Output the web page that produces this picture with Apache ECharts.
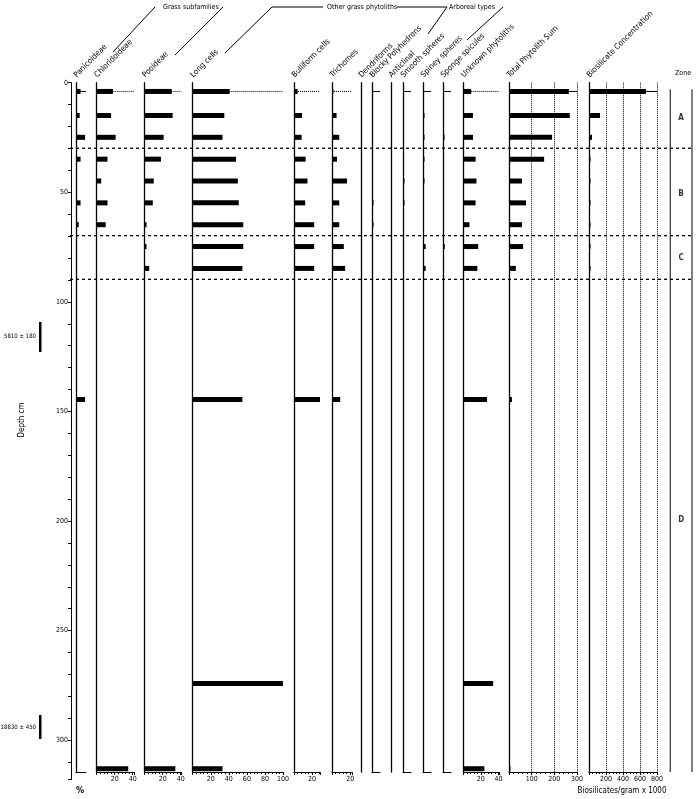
<!DOCTYPE html>
<html><head><meta charset="utf-8">
<script src="https://cdn.jsdelivr.net/npm/echarts@6/dist/echarts.min.js"></script>
<style>html,body{margin:0;padding:0;background:#fff}#c{width:700px;height:799px}</style>
</head><body><div id="c"></div>
<script>
var depths = [4,15,25,35,45,55,65,75,85,145,275,314];
var panicoideae   = [5,4,10,5,0,5,3,0,0,10,0,0];
var chloridoideae = [18,16,21,12,5,12,10,0,0,0,0,35];
var pooideae      = [30,31,21,18,10,9,2,2,5,0,0,34];
var longCells     = [41,35,33,48,50,51,56,56,55,55,100,33];
var bulliform     = [4,9,8.5,13,15,12.5,22.5,22.5,22.5,29,0,0];
var trichomes     = [1,5,8,5.5,16.5,8,8,13,14.5,9,0,0];
var dendriforms   = [0,0,0,0,0,0,0,0,0,0,0,0];
var blocky        = [0,0,0,0,0,1,1,0,0,0,0,0];
var anticlinal    = [0,0,0,0,0,0,0,0,0,0,0,0];
var smooth        = [0,0,0,0,1,1,0,0,0,0,0,0];
var spiney        = [0,0.6,0.6,0.6,1,0,0,3,3,0,0,0];
var sponge        = [0,0,0.6,0,0,0,0,2,0,0,0,0];
var unknown       = [9,11,11,14,15,14,7,17,16,27,34,24];
var totalSum      = [264,268,190,155,57,75,57,62,30,13,0,3];
var biosilicate   = [670,130,35,5,5,5,5,5,5,0,0,0];
var zoneBounds = [30,70,90];
var zoneLabels = [['A',16],['B',51],['C',80],['D',200]];

var TOP=82.7, H=689.3, DMAX=315.5;
var panels = [
 {name:'Panicoideae', v:panicoideae, left:76, w:10, max:11, ticks:[], top:'solid'},
 {name:'Chloridoideae', v:chloridoideae, left:96.7, w:37.3, max:41.4, ticks:[20,40], step:20, top:'dotted'},
 {name:'Pooideae', v:pooideae, left:144.7, w:36.5, max:40.5, ticks:[20,40], step:20, top:'dotted'},
 {name:'Long cells', v:longCells, left:192.7, w:90.3, max:100, ticks:[20,40,60,80,100], step:20, top:'dotted'},
 {name:'Bulliform cells', v:bulliform, left:294, w:26, max:29, ticks:[20], step:20, top:'dotted'},
 {name:'Trichomes', v:trichomes, left:332, w:20, max:22, ticks:[20], step:20, top:'dotted'},
 {name:'Dendriforms', v:dendriforms, left:361, w:0.5, max:1, ticks:[], top:'none'},
 {name:'Blocky Polyhedrons', v:blocky, left:372, w:8, max:9, ticks:[], top:'solid'},
 {name:'Anticlinal', v:anticlinal, left:391, w:0.5, max:1, ticks:[], top:'none'},
 {name:'Smooth spheres', v:smooth, left:403, w:8, max:9, ticks:[], top:'solid'},
 {name:'Spiney spheres', v:spiney, left:423, w:8, max:9, ticks:[], top:'solid'},
 {name:'Sponge spicules', v:sponge, left:443, w:8, max:9, ticks:[], top:'solid'},
 {name:'Unknown phytoliths', v:unknown, left:463.3, w:36, max:41, ticks:[20,40], step:20, top:'dotted'},
 {name:'Total Phytolith Sum', v:totalSum, left:509, w:68, max:300, ticks:[100,200,300], step:100, top:'solid', grid:true},
 {name:'Biosilicate Concentration', v:biosilicate, left:589, w:68, max:800, ticks:[200,400,600,800], step:200, top:'solid', grid:true}
];
var FONT = '"Liberation Sans Narrow","DejaVu Sans Condensed",sans-serif';
var grids=[], xAxes=[], yAxes=[], series=[], graphics=[];
function renderBar(params, api){
  var v=api.value(0), d=api.value(1);
  var p0=api.coord([0,d]), p1=api.coord([v,d]);
  var w=Math.max(p1[0]-p0[0],1.5);
  return {type:'rect', shape:{x:p0[0], y:p0[1]-2.5, width:w, height:5}, style:{fill:'#000'}};
}
panels.forEach(function(p,i){
  grids.push({left:p.left, top:TOP, width:p.w, height:H});
  var hasTicks = p.ticks.length>0;
  var tk = p.ticks;
  xAxes.push({gridIndex:i, type:'value', min:0, max:p.max, interval:p.step||p.max, position:'bottom',
    axisLine:{show:p.top!=='none', onZero:false, lineStyle:{color:'#000',width:1}},
    axisTick:{show:hasTicks, length:3, lineStyle:{color:'#000'}},
    minorTick:{show:hasTicks, splitNumber:5, length:2, lineStyle:{color:'#000'}},
    axisLabel:{show:hasTicks, fontSize:7, color:'#000', margin:4, fontFamily:FONT,
      formatter:function(v){return tk.indexOf(v)>=0?String(v):'';}},
    splitLine:{show:!!p.grid, lineStyle:{type:'dotted', color:'#000', width:1}}
  });
  yAxes.push({gridIndex:i, type:'value', min:0, max:DMAX, inverse:true,
    axisLine:{show:true, onZero:false, lineStyle:{color:'#000', width:1.3}}, axisTick:{show:false}, axisLabel:{show:false}, splitLine:{show:false}});
  series.push({type:'custom', xAxisIndex:i, yAxisIndex:i, renderItem:renderBar,
    data:depths.map(function(d,k){return [p.v[k],d];}).filter(function(a){return a[0]>0;}), silent:true});
  if(p.top!=='none'){
    series.push({type:'line', xAxisIndex:i, yAxisIndex:i, symbol:'none', silent:true,
      data:[[0,4],[p.max,4]], lineStyle:{color:'#000', width:1, type:p.top}});
  }
  graphics.push({type:'text', x:p.left+2, y:79, rotation:Math.PI/4,
    style:{text:p.name, fontSize:8, fontFamily:FONT, fill:'#000', textAlign:'left', textVerticalAlign:'bottom'}});
});
var di=grids.length;
grids.push({left:71, top:TOP, width:1, height:697});
xAxes.push({gridIndex:di, type:'value', show:false});
yAxes.push({gridIndex:di, type:'value', min:0, max:318, interval:10, inverse:true,
  axisLine:{show:true, onZero:false, lineStyle:{color:'#000'}}, axisTick:{show:true, length:3, lineStyle:{color:'#000'}},
  axisLabel:{fontSize:7, color:'#000', margin:3, fontFamily:FONT, formatter:function(v){return v%50===0?String(v):'';}},
  splitLine:{show:false}});
var oi=grids.length;
grids.push({left:70, top:TOP, width:622, height:H});
xAxes.push({gridIndex:oi, type:'value', min:0, max:1, show:false});
yAxes.push({gridIndex:oi, type:'value', min:0, max:DMAX, inverse:true, show:false});
zoneBounds.forEach(function(z){
  series.push({type:'line', xAxisIndex:oi, yAxisIndex:oi, symbol:'none', silent:true,
    data:[[0,z],[1,z]], lineStyle:{color:'#000', width:1.3, type:[3,3]}});
});
[0.965,1].forEach(function(x){
  series.push({type:'line', xAxisIndex:oi, yAxisIndex:oi, symbol:'none', silent:true,
    data:[[x,3],[x,DMAX]], lineStyle:{color:'#000', width:1}});
});
series.push({type:'scatter', xAxisIndex:oi, yAxisIndex:oi, symbolSize:0, silent:true,
  data:zoneLabels.map(function(z){return {value:[0.9825,z[1]], name:z[0]};}),
  label:{show:true, formatter:'{b}', position:'inside', fontSize:8, fontWeight:'bold', color:'#000', fontFamily:FONT}});

function ln(pts){graphics.push({type:'polyline', shape:{points:pts}, style:{stroke:'#000', lineWidth:1, fill:null}});}
function tx(t,x,y,opt){opt=opt||{};graphics.push({type:'text', x:x, y:y, rotation:opt.rot||0,
  style:{text:t, fontSize:opt.fs||8, fontFamily:FONT, fill:'#000', textAlign:opt.align||'left', textVerticalAlign:'middle', fontWeight:opt.fw||'normal'}});}
ln([[113,52],[155,7]]); tx('Grass subfamilies',163,7,{fs:7});
ln([[223,7],[175,55]]);
ln([[225,53],[272,7],[323,7]]); tx('Other grass phytoliths',327,7,{fs:7});
ln([[397,7],[447,7],[428,34]]); tx('Arboreal types',449,7,{fs:7});
ln([[503,7],[467,40]]);
tx('Zone',683,73,{fs:7,align:'center'});
tx('%',80,791,{fs:9,align:'center',fw:'bold'});
tx('Biosilicates/gram x 1000',622,791,{fs:8,align:'center'});
tx('Depth cm',22,420,{fs:8,align:'center',rot:Math.PI/2});
tx('5810 ± 180',36,336,{fs:6,align:'right'});
graphics.push({type:'rect', shape:{x:39,y:322,width:2.5,height:30}, style:{fill:'#000'}});
tx('18830 ± 450',36,727,{fs:6,align:'right'});
graphics.push({type:'rect', shape:{x:39,y:715,width:2.5,height:24}, style:{fill:'#000'}});

var chart=echarts.init(document.getElementById('c'),null,{renderer:'canvas'});
chart.setOption({animation:false, grid:grids, xAxis:xAxes, yAxis:yAxes, series:series, graphic:graphics});
</script></body></html>
